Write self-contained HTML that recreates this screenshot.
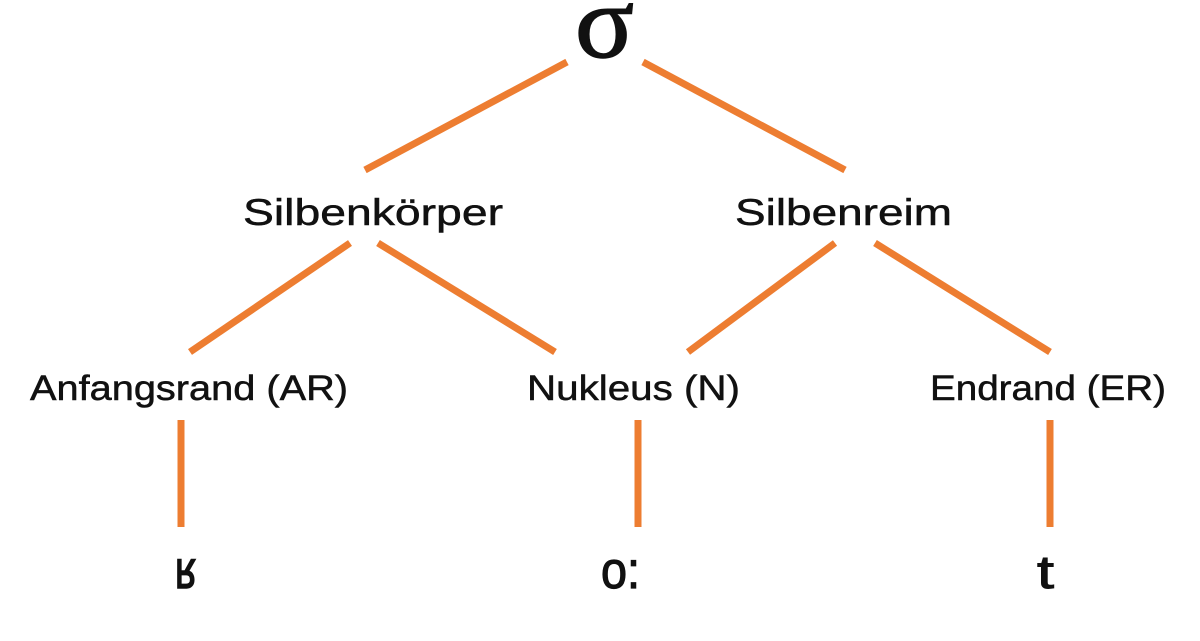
<!DOCTYPE html>
<html><head><meta charset="utf-8"><style>
html,body{margin:0;padding:0;background:#fff;width:1200px;height:641px;overflow:hidden}
svg{display:block}
text{font-family:"Liberation Sans","DejaVu Sans",sans-serif;fill:#111;stroke:#111;stroke-width:0.5}
</style></head><body>
<svg width="1200" height="641" viewBox="0 0 1200 641" xmlns="http://www.w3.org/2000/svg">
<g stroke="#ED7D31" stroke-width="7" stroke-linecap="butt" fill="none">
<line x1="567" y1="62" x2="365" y2="170"/>
<line x1="643" y1="62" x2="845" y2="170"/>
<line x1="350" y1="243" x2="190" y2="352"/>
<line x1="378" y1="243" x2="555" y2="352"/>
<line x1="835" y1="243" x2="688" y2="352"/>
<line x1="875" y1="243" x2="1050" y2="352"/>
<line x1="181" y1="420" x2="181" y2="527"/>
<line x1="638" y1="420" x2="638" y2="527"/>
<line x1="1050" y1="420" x2="1050" y2="527"/>
</g>
<text x="575" y="57" font-size="104" textLength="59" lengthAdjust="spacingAndGlyphs" style="font-family:'Liberation Serif','DejaVu Serif',serif;stroke-width:1.5">σ</text>
<text x="243" y="225" font-size="37" textLength="260" lengthAdjust="spacingAndGlyphs">Silbenkörper</text>
<text x="735" y="225" font-size="37" textLength="217" lengthAdjust="spacingAndGlyphs">Silbenreim</text>
<text x="30" y="400" font-size="35" textLength="318" lengthAdjust="spacingAndGlyphs">Anfangsrand (AR)</text>
<text x="527" y="400" font-size="35" textLength="213" lengthAdjust="spacingAndGlyphs">Nukleus (N)</text>
<text x="930" y="400" font-size="35" textLength="236" lengthAdjust="spacingAndGlyphs">Endrand (ER)</text>
<text x="175" y="588" font-size="54" textLength="21" lengthAdjust="spacingAndGlyphs" style="stroke-width:1.5">ʁ</text>
<text x="601" y="588" font-size="52" textLength="39" lengthAdjust="spacingAndGlyphs" style="stroke-width:1.2">o:</text>
<text x="1037" y="588" font-size="46" textLength="17" lengthAdjust="spacingAndGlyphs" style="stroke-width:1">t</text>
</svg>
</body></html>
